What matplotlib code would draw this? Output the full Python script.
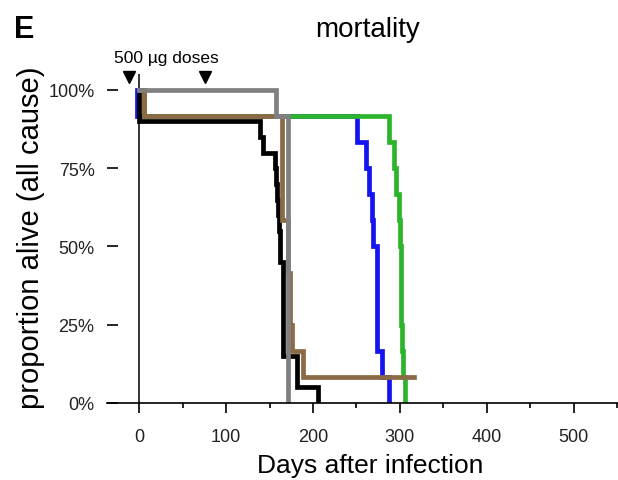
import numpy as np
import matplotlib.pyplot as plt
from matplotlib.ticker import PercentFormatter, MultipleLocator

plt.rcParams['font.family'] = ['Liberation Sans', 'DejaVu Sans']

# survival curves: event days and number alive after each event
blue_days = [-2, -2, 251, 261, 264, 268, 269, 274, 274, 274, 274, 280, 288]
blue_surv = [12, 11, 10, 9, 8, 7, 6, 5, 4, 3, 2, 1, 0]

green_days = [0, 5, 287, 293, 296, 299, 300, 301, 301, 301, 302, 304, 306]
green_surv = [12, 11, 10, 9, 8, 7, 6, 5, 4, 3, 2, 1, 0]

black_days = [0, 0, 139, 142, 156, 158, 159, 160, 161, 162, 162,
              165, 165, 165, 165, 165, 165, 182, 182, 206]
black_surv = [20, 18, 17, 16, 15, 14, 13, 12, 11, 10, 9,
              8, 7, 6, 5, 4, 3, 2, 1, 0]

brown_days = [0, 5, 164, 164, 164, 164, 171, 171, 174, 174, 176, 188, 316]
brown_surv = [12, 11, 10, 9, 8, 7, 6, 5, 4, 3, 2, 1, 1]

gray_days = [0, 158, 171]
gray_surv = [12, 11, 0]

dose_days = [-12, 76]
ypct = [0, 0.25, 0.5, 0.75, 1.0]
xt = [0, 100, 200, 300, 400, 500]

fig = plt.figure(figsize=(6.18, 4.81), dpi=100)
ax = fig.add_axes([107/618, 1-404/481, 511/618, 329/481])

curves = [
    (blue_days, blue_surv, 12, '#1414f0'),
    (green_days, green_surv, 12, '#2cb52c'),
    (black_days, black_surv, 20, 'black'),
    (brown_days, brown_surv, 12, '#8b6a46'),
    (gray_days, gray_surv, 12, '#808080'),
]
for d, s, n, c in curves:
    ax.step(d, np.array(s) / n, where='post', color=c, lw=3.4,
            solid_joinstyle='miter')

ax.axvline(0, color='black', lw=1.1, zorder=0)

ax.plot(dose_days, [1.04] * len(dose_days), 'v', color='black', ms=9,
        clip_on=False)
ax.text(31, 1.105, '500 µg doses', ha='center', va='center', fontsize=12.5,
        clip_on=False)

ax.set_xlim(-37, 551)
ax.set_ylim(0, 1.051)
for s in ['top', 'right', 'left']:
    ax.spines[s].set_visible(False)
ax.spines['bottom'].set_linewidth(1.2)

ax.set_yticks(ypct)
ax.yaxis.set_major_formatter(PercentFormatter(1.0, decimals=0))
ax.tick_params(axis='y', direction='in', length=8, width=1.2, pad=9,
               labelsize=13, labelcolor='#222222')
ax.set_xticks(xt)
ax.xaxis.set_minor_locator(MultipleLocator(50))
ax.tick_params(axis='x', which='major', direction='out', length=7, width=1.2,
               pad=11, labelsize=13, labelcolor='#222222')
ax.tick_params(axis='x', which='minor', direction='out', length=3.5, width=1.2)

fig.text(24/618, 1-30/481, 'E', fontsize=22, fontweight='bold',
         ha='center', va='center')
fig.text(368/618, 1-30/481, 'mortality', fontsize=20, ha='center', va='center')
fig.text(370/618, 1-466/481, 'Days after infection', fontsize=19,
         ha='center', va='center')
fig.text(31/618, 1-238/481, 'proportion alive (all cause)', fontsize=21,
         rotation=90, ha='center', va='center')

fig.savefig('out.png', dpi=100)
